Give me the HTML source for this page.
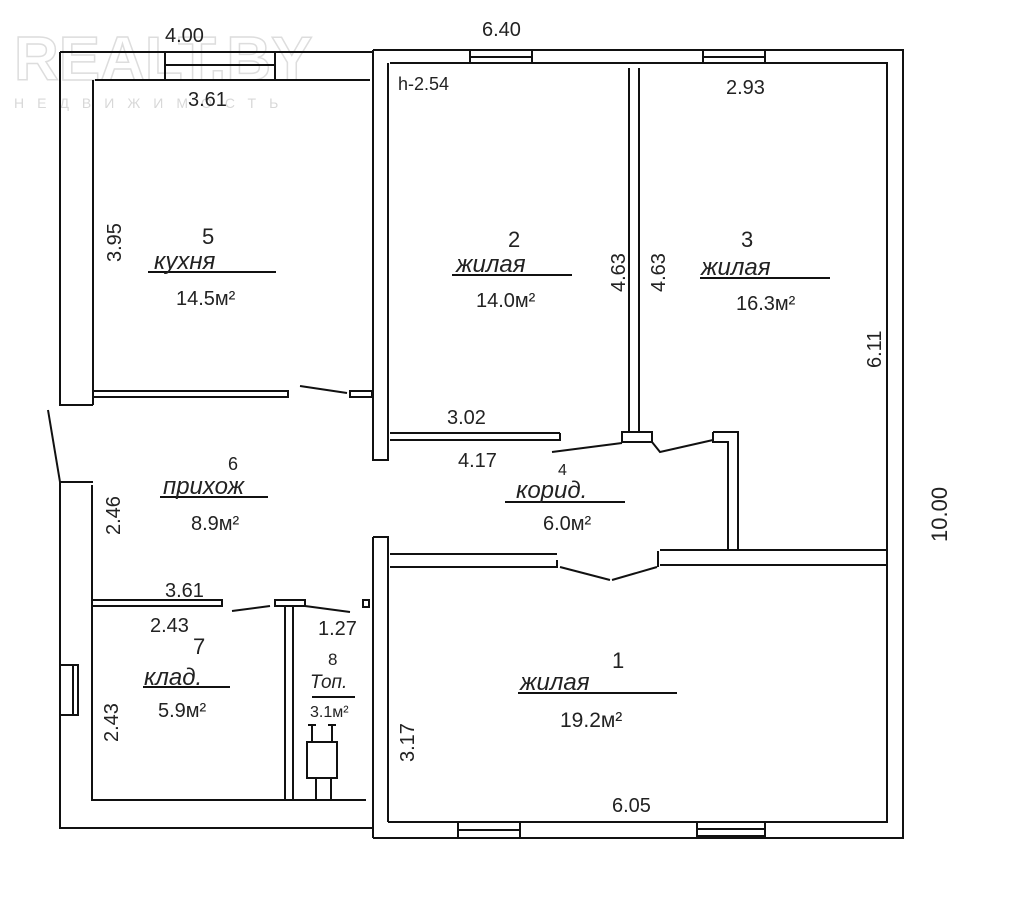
<!DOCTYPE html>
<html><head><meta charset="utf-8"><style>
html,body{margin:0;padding:0;background:#fff}
svg{display:block}
text{font-family:"Liberation Sans","DejaVu Sans",sans-serif;fill:#222}
</style></head><body>
<svg width="1024" height="921" viewBox="0 0 1024 921" xmlns="http://www.w3.org/2000/svg">
<rect width="1024" height="921" fill="#fff"/>
<text x="14" y="80" font-size="62" font-weight="bold" fill="none" stroke="#ddd" stroke-width="1.5" style="fill:none">REALT.BY</text>
<text x="14" y="108" font-size="14" style="fill:#d8d8d8;letter-spacing:13px">НЕДВИЖИМОСТЬ</text>
<g stroke="#111" stroke-width="2" fill="none">
<path d="M60 52 H373 M60 52 V405 H93 M93 80 V405 M95 80 H370"/>
<rect x="165" y="52" width="110" height="28"/><line x1="165" y1="65" x2="275" y2="65"/>
<path d="M373 50 V460 H388 V63"/>
<path d="M373 50 H903 V838 H373 M390 63 H887 V822 H388"/>
<rect x="470" y="50" width="62" height="13"/><line x1="470" y1="57" x2="532" y2="57"/>
<rect x="703" y="50" width="62" height="13"/><line x1="703" y1="57" x2="765" y2="57"/>
<path d="M629 68 V432 M639 68 V432"/>
<rect x="622" y="432" width="30" height="10"/>
<path d="M93 391 H288 V397 H93"/>
<line x1="300" y1="386" x2="347" y2="393"/>
<rect x="350" y="391" width="22" height="6"/>
<path d="M390 433 H560 M390 440 H560 V433"/>
<line x1="552" y1="452" x2="622" y2="443"/>
<path d="M652 442 L660 452 L713 440"/>
<path d="M713 432 H738 V550 M713 432 V442 H728 V550"/>
<path d="M373 537 H388 V822 M373 537 V838"/>
<path d="M390 554 H557 M390 567 H557 V560"/>
<path d="M560 567 L610 580 M612 580 L657 567 M658 551 V567"/>
<path d="M660 550 H887 M660 565 H887"/>
<rect x="458" y="822" width="62" height="16"/><line x1="458" y1="830" x2="520" y2="830"/>
<rect x="697" y="822" width="68" height="14"/><line x1="697" y1="829" x2="765" y2="829"/>
<line x1="48" y1="410" x2="60" y2="482"/>
<path d="M60 482 H93 M60 482 V828 H373 M92 485 V800 H366"/>
<rect x="60" y="665" width="18" height="50"/><line x1="73" y1="665" x2="73" y2="715"/>
<path d="M92 600 H222 V606 H92"/>
<line x1="232" y1="611" x2="270" y2="606"/>
<rect x="275" y="600" width="30" height="6"/>
<line x1="305" y1="606" x2="350" y2="612"/>
<rect x="363" y="600" width="6" height="7"/>
<path d="M285 606 V800 M293 606 V800"/>
<rect x="307" y="742" width="30" height="36"/>
<path d="M312 725 V742 M332 725 V742 M308 725 H316 M328 725 H336 M316 778 V800 M331 778 V800"/>
<path d="M148 272 H276 M452 275 H572 M700 278 H830 M160 497 H268 M505 502 H625 M143 687 H230 M312 697 H355 M518 693 H677"/>
</g>
<g font-size="20">
<text x="165" y="42">4.00</text>
<text x="482" y="36">6.40</text>
<text x="188" y="106">3.61</text>
<text x="398" y="90" font-size="18">h-2.54</text>
<text x="726" y="94">2.93</text>
<text transform="translate(121 262) rotate(-90)">3.95</text>
<text x="202" y="244" font-size="22">5</text>
<text x="154" y="269" font-size="24" font-style="italic">кухня</text>
<text x="176" y="305">14.5м²</text>
<text x="508" y="247" font-size="22">2</text>
<text x="456" y="272" font-size="24" font-style="italic">жилая</text>
<text x="476" y="307">14.0м²</text>
<text x="741" y="247" font-size="22">3</text>
<text x="701" y="275" font-size="24" font-style="italic">жилая</text>
<text x="736" y="310">16.3м²</text>
<text transform="translate(625 292) rotate(-90)">4.63</text>
<text transform="translate(665 292) rotate(-90)">4.63</text>
<text transform="translate(881 368) rotate(-90)">6.11</text>
<text transform="translate(947 542) rotate(-90)" font-size="22">10.00</text>
<text x="447" y="424">3.02</text>
<text x="458" y="467">4.17</text>
<text x="558" y="475" font-size="16">4</text>
<text x="516" y="498" font-size="24" font-style="italic">корид.</text>
<text x="543" y="530">6.0м²</text>
<text x="228" y="470" font-size="18">6</text>
<text x="163" y="494" font-size="24" font-style="italic">прихож</text>
<text x="191" y="530">8.9м²</text>
<text transform="translate(120 535) rotate(-90)">2.46</text>
<text x="165" y="597">3.61</text>
<text x="150" y="632">2.43</text>
<text x="193" y="654" font-size="22">7</text>
<text x="144" y="685" font-size="24" font-style="italic">клад.</text>
<text x="158" y="717">5.9м²</text>
<text transform="translate(118 742) rotate(-90)">2.43</text>
<text x="318" y="635">1.27</text>
<text x="328" y="665" font-size="17">8</text>
<text x="310" y="688" font-size="19" font-style="italic">Топ.</text>
<text x="310" y="717" font-size="16">3.1м²</text>
<text transform="translate(414 762) rotate(-90)">3.17</text>
<text x="612" y="668" font-size="22">1</text>
<text x="520" y="690" font-size="24" font-style="italic">жилая</text>
<text x="560" y="727" font-size="21">19.2м²</text>
<text x="612" y="812">6.05</text>
</g>
</svg>
</body></html>
